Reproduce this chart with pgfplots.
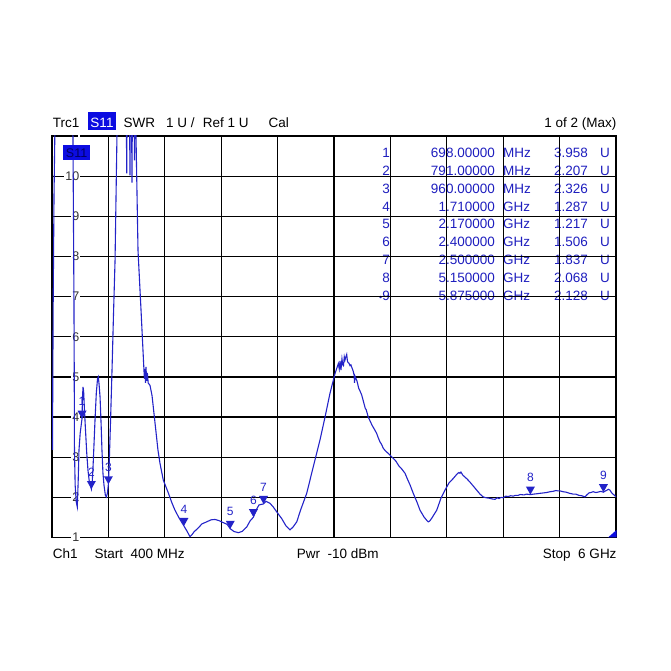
\documentclass[border=0pt]{standalone}
\usepackage{pgfplots}
\pgfplotsset{compat=1.18}
\usepackage{fontspec}
\setmainfont{Liberation Sans}
\definecolor{trace}{RGB}{35,35,200}
\definecolor{tabblue}{RGB}{30,30,190}
\definecolor{boxblue}{RGB}{12,12,225}
\pgfdeclareplotmark{dtri}{%
  \pgfpathmoveto{\pgfpoint{0pt}{0pt}}%
  \pgfpathlineto{\pgfpoint{-4.5pt}{8pt}}%
  \pgfpathlineto{\pgfpoint{4.5pt}{8pt}}%
  \pgfpathclose\pgfusepathqfill}
\begin{document}
\begin{tikzpicture}[x=1pt,y=1pt]
\path[use as bounding box] (-52,-133.5) rectangle (619,537.5);
% header
\begin{scope}[font=\fontsize{13.5}{14}\selectfont]
\node[anchor=base west,inner sep=0] at (0.7,410) {Trc1};
\fill[boxblue] (35.7,407.5) rectangle (64,425.5);
\node[anchor=base,inner sep=0,text=white] at (50,410) {S11};
\node[anchor=base west,inner sep=0] at (71.3,410) {SWR};
\node[anchor=base west,inner sep=0] at (114,410) {1 U /};
\node[anchor=base west,inner sep=0] at (150.7,410) {Ref 1 U};
\node[anchor=base west,inner sep=0] at (216.3,410) {Cal};
\node[anchor=base east,inner sep=0] at (564.5,410) {1 of 2 (Max)};
% footer
\node[anchor=base west,inner sep=0] at (0.7,-20.5) {Ch1};
\node[anchor=base west,inner sep=0] at (42.3,-20.5) {Start\ \ 400 MHz};
\node[anchor=base west,inner sep=0] at (244.7,-20.5) {Pwr\ \ -10 dBm};
\node[anchor=base east,inner sep=0] at (564.7,-20.5) {Stop\ \ 6 GHz};
\end{scope}
% marker table
\begin{scope}[font=\fontsize{13.5}{14}\selectfont, text=tabblue, every node/.style={inner sep=0}]
\foreach \k/\n/\f/\u/\v in {1/1/698.00000/MHz/3.958, 2/2/791.00000/MHz/2.207, 3/3/960.00000/MHz/2.326, 4/4/1.710000/GHz/1.287, 5/5/2.170000/GHz/1.217, 6/6/2.400000/GHz/1.506, 7/7/2.500000/GHz/1.837, 8/8/5.150000/GHz/2.068, 9/9/5.875000/GHz/2.128}{
  \pgfmathsetmacro{\yy}{379.8-17.8*(\k-1)}
  \node[anchor=base east] at (338,\yy) {\n};
  \node[anchor=base east] at (443,\yy) {\f};
  \node[anchor=base west] at (451,\yy) {\u};
  \node[anchor=base east] at (536,\yy) {\v};
  \node[anchor=base west] at (548,\yy) {U};
}
\node[anchor=base east, font=\fontsize{9}{9}\selectfont] at (330.5,237.4) {\textbullet};
\end{scope}
\begin{axis}[
  scale only axis, width=564pt, height=401.5pt,
  xmin=0.4, xmax=6, ymin=1, ymax=11,
  xtick={0.4,0.96,1.52,2.08,2.64,3.2,3.76,4.32,4.88,5.44,6.0},
  ytick={1,2,3,4,5,6,7,8,9,10,11},
  yticklabels={1,2,3,4,5,6,7,8,9,10,{}},
  xticklabels={},
  major tick length=0pt,
  grid=major,
  major grid style={black, line width=1.25pt},
  axis line style={black, line width=1.5pt},
  /pgf/number format/assume math mode=true,
  yticklabel style={anchor=east, inner sep=1pt, fill=white, xshift=28.5pt,
    font=\fontsize{12.5}{13}\selectfont, text=black!80},
  clip=true,
]
\addplot[trace, line width=1.1pt] coordinates {
(0.405,3.18)(0.408,5.0)(0.412,6.91)(0.420,9.5)(0.428,11.0)(0.433,12.5)(0.600,12.5)
(0.608,11.0)(0.613,9.0)(0.618,6.91)(0.621,5.0)(0.623,3.18)(0.630,2.3)(0.640,1.9)
(0.651,1.76)(0.660,2.4)(0.668,3.18)(0.680,3.6)(0.698,3.958)(0.703,4.5)(0.708,4.75)
(0.714,4.65)(0.722,4.2)(0.730,3.8)(0.745,3.1)(0.757,2.68)(0.770,2.4)(0.791,2.207)
(0.800,2.4)(0.810,2.9)(0.827,3.92)(0.840,4.6)(0.852,4.95)(0.860,5.00)(0.868,4.8)
(0.877,4.50)(0.888,3.8)(0.896,3.18)(0.906,2.6)(0.916,2.31)(0.930,2.05)(0.940,2.01)
(0.950,2.1)(0.960,2.326)(0.970,3.0)(0.980,3.8)(0.996,5.17)(1.010,6.5)(1.026,7.90)
(1.045,11.0)(1.050,12.5)(1.135,12.5)(1.142,10.07)(1.148,12.5)(1.168,12.5)(1.174,10.02)
(1.180,12.5)(1.188,12.5)(1.194,9.84)(1.200,12.5)(1.212,12.5)(1.219,10.39)(1.226,12.5)
(1.232,12.5)(1.234,11.0)(1.254,8.15)(1.284,6.66)(1.313,5.17)(1.318,4.95)(1.323,5.2)
(1.328,4.85)(1.333,5.25)(1.340,4.9)(1.347,5.1)(1.355,4.85)(1.373,4.79)(1.393,4.54)
(1.423,3.85)(1.452,3.18)(1.472,2.85)(1.505,2.43)(1.555,2.11)(1.591,1.86)(1.621,1.68)
(1.661,1.49)(1.690,1.37)(1.710,1.287)(1.740,1.16)(1.770,1.02)(1.790,1.07)(1.810,1.14)
(1.853,1.24)(1.889,1.34)(1.936,1.39)(1.979,1.44)(2.018,1.45)(2.058,1.42)(2.101,1.37)
(2.138,1.33)(2.170,1.217)(2.207,1.15)(2.250,1.12)(2.287,1.15)(2.333,1.26)(2.366,1.41)
(2.400,1.506)(2.426,1.68)(2.455,1.81)(2.500,1.837)(2.525,1.90)(2.565,1.85)(2.597,1.76)
(2.634,1.63)(2.681,1.47)(2.723,1.29)(2.763,1.19)(2.793,1.26)(2.830,1.39)(2.872,1.71)
(2.929,2.10)(2.994,2.76)(3.061,3.43)(3.111,4.00)(3.160,4.59)(3.210,5.08)(3.243,5.33)
(3.252,5.20)(3.260,5.40)(3.269,5.17)(3.279,5.45)(3.287,5.30)(3.294,5.28)(3.302,5.50)
(3.309,5.42)(3.318,5.50)(3.326,5.56)(3.333,5.40)(3.339,5.36)(3.349,5.34)(3.359,5.28)
(3.368,5.30)(3.379,5.22)(3.390,5.15)(3.399,5.05)(3.404,4.85)(3.408,5.02)(3.428,4.90)
(3.445,4.72)(3.458,4.65)(3.475,4.55)(3.491,4.40)(3.510,4.22)(3.520,4.18)(3.540,4.00)
(3.555,3.92)(3.577,3.80)(3.600,3.70)(3.624,3.59)(3.640,3.48)(3.657,3.38)(3.670,3.33)
(3.690,3.22)(3.710,3.16)(3.736,3.10)(3.760,3.04)(3.789,2.97)(3.815,2.90)(3.845,2.78)
(3.875,2.70)(3.905,2.60)(3.930,2.45)(3.955,2.31)(3.987,2.10)(4.024,1.88)(4.054,1.68)
(4.094,1.51)(4.120,1.43)(4.136,1.39)(4.150,1.41)(4.173,1.49)(4.200,1.60)(4.220,1.68)
(4.262,1.98)(4.302,2.18)(4.342,2.36)(4.384,2.47)(4.421,2.58)(4.440,2.62)(4.451,2.60)
(4.460,2.63)(4.480,2.55)(4.520,2.46)(4.550,2.38)(4.600,2.23)(4.650,2.08)(4.682,2.01)
(4.710,1.99)(4.739,1.98)(4.770,1.96)(4.799,1.95)(4.820,1.99)(4.838,1.97)(4.860,2.00)
(4.881,1.99)(4.905,2.03)(4.928,2.02)(4.955,2.04)(4.980,2.03)(5.000,2.05)(5.027,2.05)
(5.050,2.07)(5.087,2.06)(5.110,2.08)(5.150,2.068)(5.180,2.08)(5.216,2.09)(5.245,2.10)
(5.278,2.11)(5.310,2.12)(5.345,2.14)(5.375,2.15)(5.404,2.17)(5.425,2.16)(5.444,2.16)
(5.475,2.14)(5.503,2.13)(5.540,2.10)(5.576,2.08)(5.600,2.08)(5.632,2.05)(5.660,2.04)
(5.691,2.01)(5.710,2.06)(5.731,2.11)(5.750,2.12)(5.774,2.14)(5.800,2.12)(5.820,2.13)
(5.850,2.15)(5.875,2.128)(5.895,2.16)(5.911,2.18)(5.925,2.20)(5.940,2.18)(5.955,2.12)
(5.970,2.08)(5.985,2.05)(6.000,2.01)
};
\addplot[only marks, mark=dtri, trace, point meta=explicit symbolic,
  nodes near coords,
  every node near coord/.style={anchor=center, yshift=17pt, inner sep=0pt,
    font=\fontsize{12}{12}\selectfont, text=trace}]
coordinates {
(0.698,3.958)[1] (0.791,2.207)[2] (0.960,2.326)[3] (1.710,1.287)[4] (2.170,1.217)[5]
(2.400,1.506)[6] (2.500,1.837)[7] (5.150,2.068)[8] (5.875,2.128)[9]
};
\end{axis}
\fill[boxblue] (11.3,377) rectangle (38,392.5);
\node[inner sep=0, text=blue!40!black, font=\fontsize{12.5}{13}\selectfont] at (24.6,384.7) {S11};
\fill[boxblue] (556,0) -- (564.5,0) -- (564.5,7.5) -- cycle;
\end{tikzpicture}
\end{document}
